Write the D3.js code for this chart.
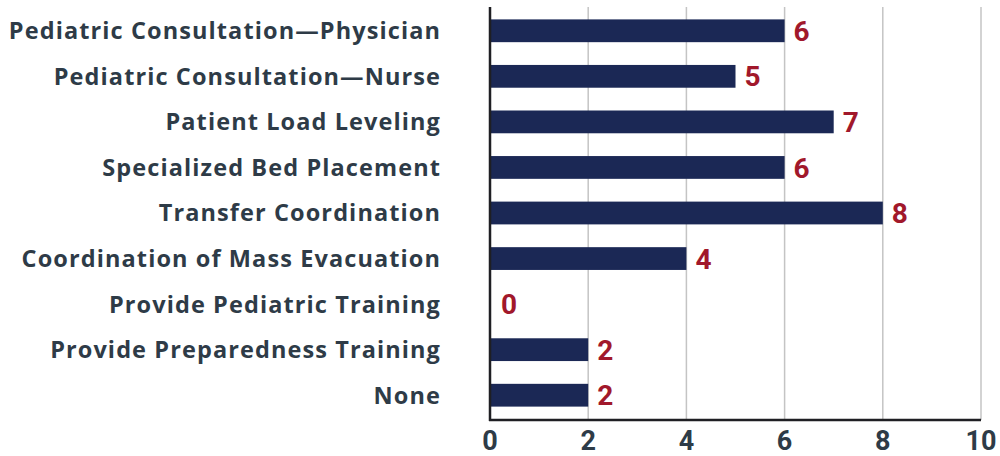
<!DOCTYPE html>
<html>
<head>
<meta charset="utf-8">
<script src="https://cdn.jsdelivr.net/npm/d3@7"></script>
<style>
  body { margin: 0; background: #fff; }
  text { font-family: Roboto, "Noto Sans", sans-serif; font-weight: 700; }
  .cat { font-family: "Open Sans", Roboto, sans-serif; letter-spacing: 1.1px; }
</style>
</head>
<body>
<svg id="chart" width="1000" height="456"></svg>
<script>
// data
var categories = [
  "Pediatric Consultation\u2014Physician",
  "Pediatric Consultation\u2014Nurse",
  "Patient Load Leveling",
  "Specialized Bed Placement",
  "Transfer Coordination",
  "Coordination of Mass Evacuation",
  "Provide Pediatric Training",
  "Provide Preparedness Training",
  "None"
];
var counts = [6, 5, 7, 6, 8, 4, 0, 2, 2];
var xTicks = [0, 2, 4, 6, 8, 10];

var rows = categories.map(function(c, i){ return {name: c, value: counts[i]}; });

var svg = d3.select("#chart");
// note: "top" is taken by window.top, so use plotTop
var plotLeft = 490, plotRight = 981, plotTop = 7, plotBottom = 420;

var x = d3.scaleLinear().domain([0, 10]).range([plotLeft, plotRight]);
var y = d3.scaleBand().domain(categories).range([plotTop + 1, plotBottom - 2])
  .paddingInner(0.5).paddingOuter(0.25);

// grid
svg.append("g").selectAll("line")
  .data(xTicks.filter(function(t){ return t > 0; }))
  .join("line")
  .attr("x1", function(d){ return x(d); }).attr("x2", function(d){ return x(d); })
  .attr("y1", plotTop).attr("y2", plotBottom)
  .attr("stroke", "#c4c4c4").attr("stroke-width", 1.5);

// bars
svg.append("g").selectAll("rect")
  .data(rows)
  .join("rect")
  .attr("x", x(0))
  .attr("y", function(d){ return y(d.name); })
  .attr("width", function(d){ return x(d.value) - x(0); })
  .attr("height", y.bandwidth())
  .attr("fill", "#1b2855");

// value labels
svg.append("g").selectAll("text")
  .data(rows)
  .join("text")
  .attr("x", function(d){ return x(d.value) + (d.value === 0 ? 11 : 9); })
  .attr("y", function(d){ return y(d.name) + y.bandwidth() / 2; })
  .attr("dy", "0.36em")
  .attr("fill", "#a1182b")
  .attr("font-size", 28)
  .text(function(d){ return d.value; });

// category labels
svg.append("g").selectAll("text")
  .data(rows)
  .join("text")
  .attr("class", "cat")
  .attr("x", 441)
  .attr("y", function(d){ return y(d.name) + y.bandwidth() / 2; })
  .attr("dy", "0.36em")
  .attr("text-anchor", "end")
  .attr("fill", "#2e3b47")
  .attr("font-size", 23.5)
  .text(function(d){ return d.name; });

// axes lines
svg.append("line")
  .attr("x1", plotLeft).attr("x2", plotLeft).attr("y1", plotTop).attr("y2", plotBottom + 1)
  .attr("stroke", "#1f1f23").attr("stroke-width", 2.5);
svg.append("line")
  .attr("x1", plotLeft - 1).attr("x2", plotRight).attr("y1", plotBottom).attr("y2", plotBottom)
  .attr("stroke", "#1f1f23").attr("stroke-width", 2.5);

// x tick labels
svg.append("g").selectAll("text")
  .data(xTicks)
  .join("text")
  .attr("x", function(d){ return x(d); })
  .attr("y", 450)
  .attr("text-anchor", "middle")
  .attr("fill", "#2e3b47")
  .attr("font-size", 27)
  .text(function(d){ return d; });
</script>
</body>
</html>
